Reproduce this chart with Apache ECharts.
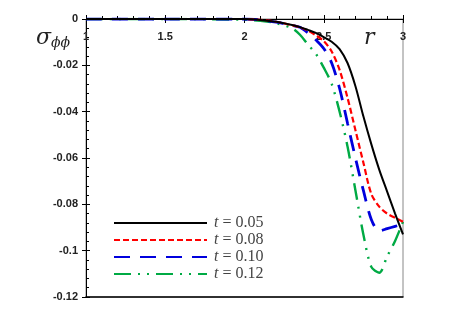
<!DOCTYPE html>
<html><head><meta charset="utf-8">
<script src="https://cdn.jsdelivr.net/npm/echarts@6/dist/echarts.min.js"></script>
<style>html,body{margin:0;padding:0;background:#fff}#c{width:466px;height:329px}</style>
</head><body><div id="c"></div>
<script>
const rValues = [1.0, 1.5, 2.0, 2.1, 2.2, 2.3, 2.35, 2.4, 2.45, 2.5, 2.55, 2.6, 2.65, 2.7, 2.75, 2.8, 2.85, 2.9, 2.95, 3.0];
const seriesNames = ['t = 0.05', 't = 0.08', 't = 0.10', 't = 0.12'];
const s005 = [0, 0, 0, -0.0004, -0.0012, -0.0026, -0.0035, -0.0047, -0.006, -0.0078, -0.0098, -0.013, -0.019, -0.029, -0.042, -0.054, -0.065, -0.0745, -0.084, -0.093];
const s008 = [0, 0, 0, -0.0004, -0.0012, -0.0027, -0.0036, -0.005, -0.007, -0.0095, -0.014, -0.022, -0.034, -0.048, -0.062, -0.0755, -0.081, -0.084, -0.0858, -0.0875];
const s010 = [0, 0, 0, -0.0004, -0.0014, -0.0028, -0.0036, -0.006, -0.009, -0.0127, -0.019, -0.030, -0.045, -0.060, -0.074, -0.0865, -0.0915, -0.0905, -0.0895, -0.0885];
const s012 = [0, 0, -0.0003, -0.0008, -0.0018, -0.004, -0.0068, -0.011, -0.015, -0.021, -0.028, -0.040, -0.055, -0.074, -0.093, -0.107, -0.1095, -0.1025, -0.0958, -0.0875];
const xTicks = [1, 1.5, 2, 2.5, 3];
const yTicks = [0, -0.02, -0.04, -0.06, -0.08, -0.1, -0.12];

const colors = ['#000000', '#ff0000', '#0000dd', '#00aa44'];
const widths = [2, 2.2, 2.8, 2.4];
const dashes = ['solid', [6, 3], [16, 10], [17, 7, 2, 7, 2, 7]];
const allData = [s005, s008, s010, s012];

const chart = echarts.init(document.getElementById('c'));
const labelFont = {fontFamily: 'Liberation Sans', fontWeight: 'bold', fontSize: 11, color: '#222'};
chart.setOption({
  animation: false,
  backgroundColor: '#fff',
  grid: {left: 86, top: 19, width: 317, height: 278, show: true, borderColor: '#888', borderWidth: 1, backgroundColor: 'transparent'},
  xAxis: [
    {type: 'value', position: 'top', min: 1, max: 3, interval: 0.5, gridIndex: 0,
     axisLine: {show: true, onZero: false, lineStyle: {color: '#000', width: 1}},
     axisTick: {show: true, inside: false, length: 4, lineStyle: {color: '#000'}},
     minorTick: {show: true, splitNumber: 5, length: 3, lineStyle: {color: '#000'}},
     axisLabel: Object.assign({inside: true, margin: 12, formatter: v => xTicks.includes(v) ? String(v) : ''}, labelFont),
     splitLine: {show: false}},
    {type: 'value', position: 'top', min: 1, max: 3, interval: 0.5, gridIndex: 0,
     axisLine: {show: false}, axisTick: {show: true, inside: true, length: 4, lineStyle: {color: '#000'}},
     axisLabel: {show: false}, splitLine: {show: false}},
    {type: 'value', position: 'bottom', min: 1, max: 3, gridIndex: 0,
     axisLine: {show: true, onZero: false, lineStyle: {color: '#000', width: 1.5}},
     axisTick: {show: false}, axisLabel: {show: false}, splitLine: {show: false}}
  ],
  yAxis: [
    {type: 'value', position: 'left', min: -0.12, max: 0, interval: 0.02,
     axisLine: {show: true, onZero: false, lineStyle: {color: '#000', width: 1}},
     axisTick: {show: true, inside: true, length: 4, lineStyle: {color: '#000'}},
     minorTick: {show: true, splitNumber: 5, length: 3, lineStyle: {color: '#000'}},
     axisLabel: Object.assign({margin: 8, formatter: v => { const t = yTicks.find(y => Math.abs(y - v) < 1e-9); return t === undefined ? '' : String(t); }}, labelFont),
     splitLine: {show: false}},
    {type: 'value', position: 'left', min: -0.12, max: 0, interval: 0.02,
     axisLine: {show: false}, axisTick: {show: true, inside: false, length: 4, lineStyle: {color: '#000'}},
     axisLabel: {show: false}, splitLine: {show: false}}
  ],
  legend: {
    orient: 'vertical', left: 113, top: 215, padding: 0, itemWidth: 93, itemHeight: 14, itemGap: 1,
    data: seriesNames,
    itemStyle: {opacity: 0, borderWidth: 0},
    formatter: n => '{i|t}' + n.slice(1),
    textStyle: {fontFamily: 'Liberation Serif', fontSize: 16, color: '#444', padding: [0, 0, 0, 2],
      rich: {i: {fontFamily: 'Liberation Serif', fontStyle: 'italic', fontSize: 16, color: '#444'}}}
  },
  series: allData.map((d, i) => ({
    name: seriesNames[i], type: 'line', xAxisIndex: 0, yAxisIndex: 0,
    data: rValues.map((r, k) => [r, d[k]]),
    smooth: 0.3, showSymbol: false, symbol: 'none',
    lineStyle: {color: colors[i], width: widths[i], type: dashes[i]},
    itemStyle: {color: colors[i]},
    z: 10 - i
  })),
  graphic: [
    {type: 'text', left: 36, top: 27, style: {rich: {s: {fontFamily: 'DejaVu Serif', fontStyle: 'italic', fontSize: 22, fill: '#222'}, b: {fontFamily: 'DejaVu Serif', fontStyle: 'italic', fontSize: 14, fill: '#222', padding: [10, 0, 0, 0]}}, text: '{s|σ}{b|ϕϕ}'}},
    {type: 'text', left: 364, top: 27, style: {text: 'r', fontFamily: 'DejaVu Serif', fontStyle: 'italic', fontSize: 22, fill: '#222'}}
  ]
});
</script></body></html>
